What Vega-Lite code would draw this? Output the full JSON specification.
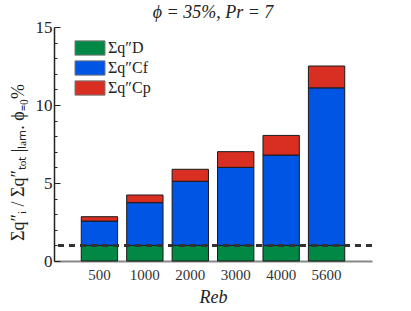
{
  "$schema": "https://vega.github.io/schema/vega-lite/v6.json",
  "width": 318,
  "height": 234,
  "autosize": "none",
  "padding": {"left": 54, "top": 27, "right": 39, "bottom": 50},
  "background": "white",
  "title": {"text": "ϕ = 35%, Pr = 7", "font": "Liberation Serif", "fontSize": 18, "fontWeight": "normal", "fontStyle": "italic", "color": "#222", "offset": -4},
  "config": {
    "view": {"stroke": null},
    "font": "Liberation Serif"
  },
  "data": {"values": [
    {"Re": "500", "part": "Σq″D", "k": 0, "v": 1.0},
    {"Re": "500", "part": "Σq″Cf", "k": 1, "v": 1.56},
    {"Re": "500", "part": "Σq″Cp", "k": 2, "v": 0.28},
    {"Re": "1000", "part": "Σq″D", "k": 0, "v": 1.0},
    {"Re": "1000", "part": "Σq″Cf", "k": 1, "v": 2.74},
    {"Re": "1000", "part": "Σq″Cp", "k": 2, "v": 0.49},
    {"Re": "2000", "part": "Σq″D", "k": 0, "v": 1.0},
    {"Re": "2000", "part": "Σq″Cf", "k": 1, "v": 4.11},
    {"Re": "2000", "part": "Σq″Cp", "k": 2, "v": 0.77},
    {"Re": "3000", "part": "Σq″D", "k": 0, "v": 1.0},
    {"Re": "3000", "part": "Σq″Cf", "k": 1, "v": 5.0},
    {"Re": "3000", "part": "Σq″Cp", "k": 2, "v": 1.01},
    {"Re": "4000", "part": "Σq″D", "k": 0, "v": 1.0},
    {"Re": "4000", "part": "Σq″Cf", "k": 1, "v": 5.79},
    {"Re": "4000", "part": "Σq″Cp", "k": 2, "v": 1.26},
    {"Re": "5600", "part": "Σq″D", "k": 0, "v": 1.0},
    {"Re": "5600", "part": "Σq″Cf", "k": 1, "v": 10.1},
    {"Re": "5600", "part": "Σq″Cp", "k": 2, "v": 1.4}
  ]},
  "layer": [
    {
      "mark": {"type": "bar", "stroke": "#1a1a1a", "strokeWidth": 1},
      "encoding": {
        "x": {
          "field": "Re", "type": "ordinal", "sort": null,
          "scale": {"paddingInner": 0.2, "paddingOuter": 0.6},
          "axis": {
            "title": "Reb", "titleFont": "Liberation Serif", "titleFontSize": 18, "titleFontStyle": "italic", "titleFontWeight": "normal", "titleColor": "#222", "titlePadding": 6,
            "labelAngle": 0, "labelFont": "Liberation Serif", "labelFontSize": 15, "labelColor": "#333", "labelPadding": 6,
            "ticks": false, "domainColor": "#888", "domainWidth": 2
          }
        },
        "y": {
          "field": "v", "type": "quantitative", "stack": "zero",
          "scale": {"domain": [0, 15], "nice": false},
          "title": "Σq″ᵢ / Σq″ₜₒₜ |ₗₐₘ. ϕ₌₀%",
          "axis": {
            "titleFont": "Liberation Serif", "titleFontSize": 18, "titleFontWeight": "normal", "titleColor": "#222", "titlePadding": 8, "titleY": 135,
            "values": [0,1,2,3,4,5,6,7,8,9,10,11,12,13,14,15],
            "labelExpr": "datum.value % 5 === 0 ? datum.label : ''",
            "labelOverlap": false,
            "labelFont": "Liberation Serif", "labelFontSize": 17, "labelColor": "#222", "labelPadding": 8,
            "tickSize": {"condition": {"test": "datum.value % 5 === 0", "value": -6}, "value": -3},
            "tickColor": "#222", "tickWidth": 1,
            "domainColor": "#222", "domainWidth": 1.5,
            "grid": false
          }
        },
        "color": {
          "field": "part", "type": "nominal",
          "scale": {"domain": ["Σq″D", "Σq″Cf", "Σq″Cp"], "range": ["#008844", "#0055e5", "#d92f22"]},
          "legend": {
            "title": null, "orient": "none", "legendX": 28, "legendY": 13,
            "symbolType": "M-2,-0.95H2V0.95H-2Z", "symbolSize": 225,
            "symbolStrokeColor": "#777", "symbolStrokeWidth": 1, "symbolOpacity": 1,
            "labelOffset": 10, "rowPadding": 0,
            "labelFont": "Liberation Serif", "labelFontSize": 16, "labelColor": "#222"
          }
        },
        "order": {"field": "k", "type": "quantitative", "sort": "ascending"}
      }
    },
    {
      "mark": {"type": "rule", "strokeDash": [6, 5], "strokeWidth": 2, "color": "#333"},
      "encoding": {
        "y": {
          "datum": 1,
          "title": "Σq″ᵢ / Σq″ₜₒₜ |ₗₐₘ. ϕ₌₀%",
          "axis": {
            "titleFont": "Liberation Serif", "titleFontSize": 18, "titleFontWeight": "normal", "titleColor": "#222", "titlePadding": 8, "titleY": 135,
            "values": [0,1,2,3,4,5,6,7,8,9,10,11,12,13,14,15],
            "labelExpr": "datum.value % 5 === 0 ? datum.label : ''",
            "labelOverlap": false,
            "labelFont": "Liberation Serif", "labelFontSize": 17, "labelColor": "#222", "labelPadding": 8,
            "tickSize": {"condition": {"test": "datum.value % 5 === 0", "value": -6}, "value": -3},
            "tickColor": "#222", "tickWidth": 1,
            "domainColor": "#222", "domainWidth": 1.5,
            "grid": false
          }
        }
      }
    }
  ]
}
